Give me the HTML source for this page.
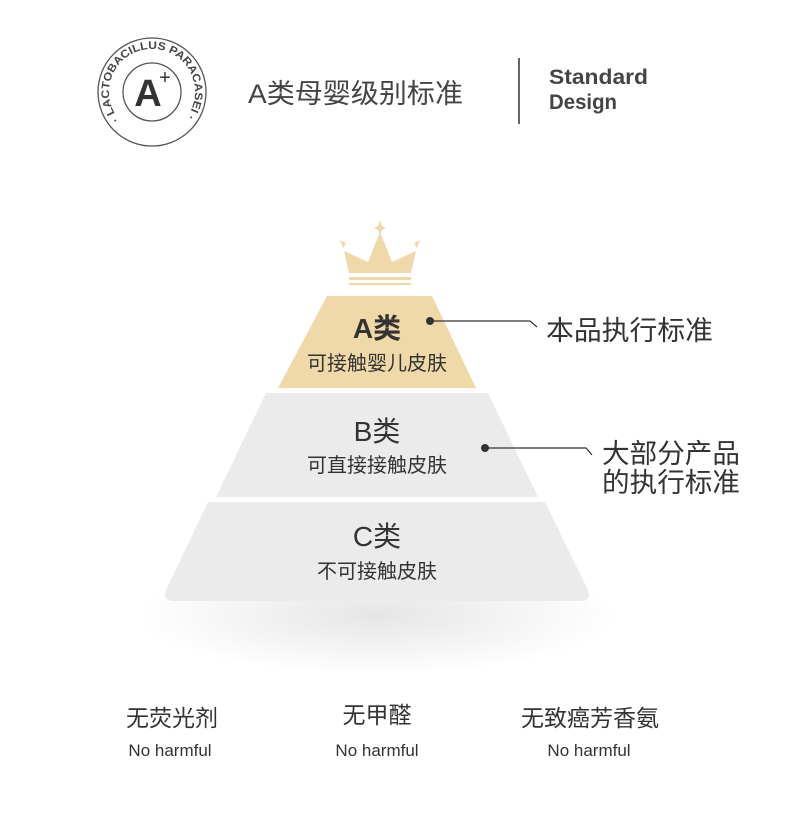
<!DOCTYPE html>
<html><head><meta charset="utf-8"><style>
body{margin:0;background:#fff;}
svg{display:block;}
text{font-family:"Liberation Sans","Noto Sans CJK SC",sans-serif;}
</style></head><body>
<svg width="790" height="830" viewBox="0 0 790 830" xmlns="http://www.w3.org/2000/svg">
<defs>
<radialGradient id="sh" cx="50%" cy="50%" r="50%"><stop offset="0" stop-color="#000" stop-opacity="0.10"/><stop offset="1" stop-color="#000" stop-opacity="0"/></radialGradient>
<path id="arc" d="M119.1,119.6 A43,43 0 1,1 184.9,119.6"/>
</defs>
<ellipse cx="377" cy="615" rx="240" ry="60" fill="url(#sh)"/>
<!-- logo -->
<circle cx="152" cy="92" r="54" fill="none" stroke="#555" stroke-width="1.3"/>
<circle cx="152" cy="92" r="29" fill="none" stroke="#555" stroke-width="1.3"/>
<text font-size="11" fill="#444" font-weight="bold"><textPath href="#arc" textLength="192" lengthAdjust="spacingAndGlyphs">· LACTOBACILLUS PARACASEI ·</textPath></text>
<text x="148" y="106" font-size="38" font-weight="bold" fill="#333" text-anchor="middle">A</text>
<text x="165" y="84" font-size="20" fill="#333" text-anchor="middle">+</text>
<text x="248" y="103" font-size="27" fill="#444" textLength="215" lengthAdjust="spacingAndGlyphs">A类母婴级别标准</text>
<line x1="519" y1="58" x2="519" y2="124" stroke="#333" stroke-width="1.5"/>
<text x="549" y="84" font-size="21" font-weight="bold" fill="#444" textLength="99" lengthAdjust="spacingAndGlyphs">Standard</text>
<text x="549" y="109" font-size="21" font-weight="bold" fill="#444" textLength="68" lengthAdjust="spacingAndGlyphs">Design</text>
<!-- crown -->
<g fill="#f0d9a8">
<path d="M380,220 L382,226 L386,228 L382,230 L380,236 L378,230 L374,228 L378,226Z"/>
<path d="M344,251 L368,262 L380,232 L392,262 L416,251 L411,273 L349,273Z"/>
<path d="M340,240 l6,3 l-3,5z M420,240 l-6,3 l3,5z"/>
<rect x="349" y="277" width="62" height="3"/>
<rect x="349" y="283" width="62" height="2"/>
</g>
<!-- pyramid -->
<path d="M327,296 L432,296 L476,388 L278,388Z" fill="#f0d9a8"/>
<path d="M266,393 L488,393 L538,497 L216,497Z" fill="#ebebeb"/>
<path d="M208,502 L545,502 L588,590 Q592,601 580,601 L174,601 Q162,601 166,590Z" fill="#ebebeb"/>
<text x="377" y="338" font-size="28" font-weight="bold" fill="#333" text-anchor="middle">A类</text>
<text x="377" y="370" font-size="20" fill="#333" text-anchor="middle">可接触婴儿皮肤</text>
<text x="377" y="441" font-size="28" fill="#333" text-anchor="middle">B类</text>
<text x="377" y="472" font-size="20" fill="#333" text-anchor="middle">可直接接触皮肤</text>
<text x="377" y="546" font-size="28" fill="#333" text-anchor="middle">C类</text>
<text x="377" y="578" font-size="20" fill="#333" text-anchor="middle">不可接触皮肤</text>
<!-- connectors -->
<circle cx="430" cy="321" r="4" fill="#333"/>
<path d="M430,321 L530,321 L537,327" fill="none" stroke="#333" stroke-width="1.2"/>
<circle cx="485" cy="448" r="4" fill="#333"/>
<path d="M485,448 L586,448 L592,455" fill="none" stroke="#333" stroke-width="1.2"/>
<text x="546" y="340" font-size="27" fill="#333" textLength="167" lengthAdjust="spacingAndGlyphs">本品执行标准</text>
<text x="602" y="463" font-size="27" fill="#333" textLength="138" lengthAdjust="spacingAndGlyphs">大部分产品</text>
<text x="602" y="492" font-size="27" fill="#333" textLength="138" lengthAdjust="spacingAndGlyphs">的执行标准</text>
<!-- bottom -->
<g font-size="23" fill="#333" text-anchor="middle">
<text x="172" y="726">无荧光剂</text>
<text x="377" y="723">无甲醛</text>
<text x="590" y="726">无致癌芳香氨</text>
</g>
<g font-size="17" fill="#333" text-anchor="middle">
<text x="170" y="756">No harmful</text>
<text x="377" y="756">No harmful</text>
<text x="589" y="756">No harmful</text>
</g>
</svg>
</body></html>
